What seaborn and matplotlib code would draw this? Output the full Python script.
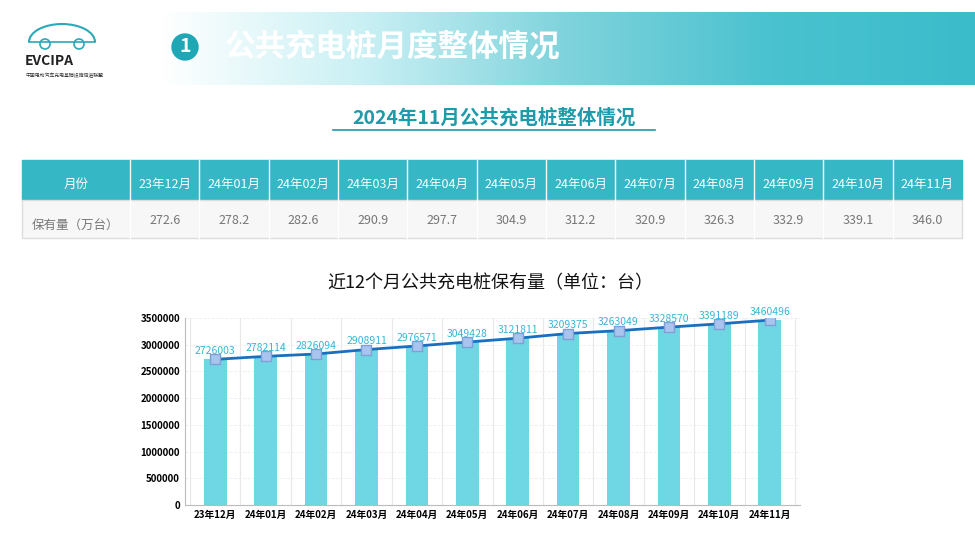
import numpy as np
import pandas as pd
import matplotlib
matplotlib.use("Agg")
import matplotlib.pyplot as plt
import seaborn as sns
from matplotlib.patches import Rectangle, Circle, Arc
from matplotlib.colors import LinearSegmentedColormap

plt.rcParams["font.family"] = ["Noto Sans CJK SC"]

months = ["23年12月", "24年01月", "24年02月", "24年03月", "24年04月", "24年05月",
          "24年06月", "24年07月", "24年08月", "24年09月", "24年10月", "24年11月"]
stock_wan = ["272.6", "278.2", "282.6", "290.9", "297.7", "304.9",
             "312.2", "320.9", "326.3", "332.9", "339.1", "346.0"]
values = [2726003, 2782114, 2826094, 2908911, 2976571, 3049428,
          3121811, 3209375, 3263049, 3328570, 3391189, 3460496]
yticks = [0, 500000, 1000000, 1500000, 2000000, 2500000, 3000000, 3500000]

W, H = 975, 560
fig = plt.figure(figsize=(W / 100, H / 100), dpi=100)
bg = fig.add_axes([0, 0, 1, 1])
bg.set_xlim(0, W); bg.set_ylim(H, 0); bg.axis("off")

# banner gradient
grad = np.linspace(0, 1, 256)[None, :]
cm = LinearSegmentedColormap.from_list("g", ["#ffffff", "#c9f0f4", "#7fd3dc", "#4ac2cf", "#3bbccb"])
bg.imshow(grad, extent=[160, 975, 85, 12], cmap=cm, aspect="auto", zorder=0)
bg.add_patch(Circle((185, 47), 13, color="#1fa7b5", zorder=2))
bg.text(185, 47, "1", color="white", fontsize=14, fontweight="bold", ha="center", va="center", zorder=3)
bg.text(225, 47, "公共充电桩月度整体情况", color="white", fontsize=22, fontweight="bold", va="center", zorder=3)

# logo
bg.add_patch(Arc((62, 42), 66, 36, theta1=180, theta2=360, color="#2aa9b8", lw=1.5))
bg.plot([29, 95], [42, 42], color="#2aa9b8", lw=1.2)
bg.add_patch(Circle((45, 44), 5, fill=False, color="#2aa9b8", lw=1.2))
bg.add_patch(Circle((79, 44), 5, fill=False, color="#2aa9b8", lw=1.2))
bg.text(25, 61, "EVCIPA", fontsize=10, fontweight="bold", color="#222", va="center")
bg.text(25, 75, "中国电动汽车充电基础设施促进联盟", fontsize=3.5, color="#333", va="center")

# subtitle
bg.text(494, 118, "2024年11月公共充电桩整体情况", fontsize=14, fontweight="bold",
        color="#1f9aaa", ha="center", va="center")
bg.plot([333, 655], [130, 130], color="#1f9aaa", lw=1.2)

# table
x0, x1 = 22, 962
first_w = 108
cw = (x1 - x0 - first_w) / 12
bg.add_patch(Rectangle((x0, 160), x1 - x0, 40, color="#35b7c6", zorder=1))
bg.add_patch(Rectangle((x0, 200), x1 - x0, 38, facecolor="#f7f7f7", edgecolor="#dddddd", zorder=1))
bg.text(x0 + first_w / 2, 184, "月份", color="white", fontsize=9, ha="center", va="center", zorder=3)
bg.text(x0 + first_w / 2, 226, "保有量（万台）", color="#777", fontsize=9, ha="center", va="center", zorder=3)
for i, (m, s) in enumerate(zip(months, stock_wan)):
    cx = x0 + first_w + cw * (i + 0.5)
    bg.text(cx, 184, m, color="white", fontsize=9, ha="center", va="center", zorder=3)
    bg.text(cx, 220, s, color="#777", fontsize=9, ha="center", va="center", zorder=3)
    xl = x0 + first_w + cw * i
    bg.plot([xl, xl], [160, 238], color="white", lw=1, zorder=2)

# chart title
bg.text(490, 283, "近12个月公共充电桩保有量（单位：台）", fontsize=13, color="#111",
        ha="center", va="center")

# chart
ax = fig.add_axes([185 / W, 1 - 505 / H, 615 / W, (505 - 318) / H])
df = pd.DataFrame({"month": months, "value": values})
sns.barplot(data=df, x="month", y="value", ax=ax, color="#6fd6e3", width=0.45, saturation=1, zorder=2)
ax.plot(range(12), values, color="#1a6fbf", lw=2, zorder=3)
ax.scatter(range(12), values, marker="s", s=55, color="#a9c4ee", edgecolor="#7f9fd6", zorder=4)
for i, v in enumerate(values):
    ax.text(i, v + 60000, str(v), color="#38b6d6", fontsize=7.5, ha="center", va="bottom", zorder=5)
ax.set_ylim(0, 3500000)
ax.set_yticks(yticks)
ax.set_yticklabels([str(t) for t in yticks], fontsize=7, fontweight="bold")
ax.set_xticks(range(12))
ax.set_xticklabels(months, fontsize=7, fontweight="bold")
ax.set_xlim(-0.6, 11.6)
ax.set_xlabel(""); ax.set_ylabel("")
ax.tick_params(length=0)
for i in range(13):
    ax.axvline(i - 0.5, color="#e8e8e8", lw=0.8, zorder=0)
for t in yticks:
    ax.axhline(t, color="#eeeeee", lw=0.6, ls="--", zorder=0)
for sp in ["top", "right"]:
    ax.spines[sp].set_visible(False)
ax.spines["left"].set_color("#bbbbbb")
ax.spines["bottom"].set_color("#bbbbbb")
ax.set_facecolor("none")

fig.savefig("out.png", dpi=100)
